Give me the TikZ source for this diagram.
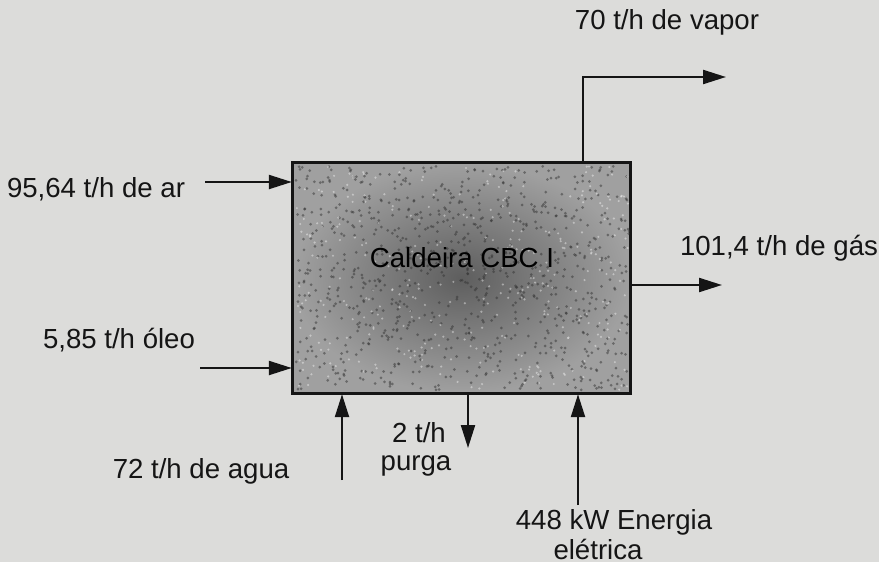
\documentclass[tikz,border=0pt]{standalone}
\usepackage{fontspec}
\setmainfont{Liberation Sans}
\usetikzlibrary{arrows.meta}
\definecolor{pagebg}{HTML}{DCDCDA}
\definecolor{ink}{HTML}{151515}
\definecolor{boxin}{HTML}{5E5E5E}
\definecolor{boxout}{HTML}{A0A0A0}
\begin{document}
\begin{tikzpicture}[x=0.5pt,y=-0.5pt,
  lbl/.style={font=\fontsize{13.8}{16}\selectfont, text=ink, inner sep=0pt},
  flow/.style={draw=ink, line width=1.1pt, -{Triangle[length=11.5pt,width=7pt]}},
  boilerbox/.style={draw=ink, line width=1.2pt, minimum width=168.5pt,
    minimum height=115pt, inner sep=0pt, inner color=boxin, outer color=boxout}]
\useasboundingbox (0,0) rectangle (879,562);
\fill[pagebg] (0,0) rectangle (879,562);
% boiler
\node[boilerbox] (boiler) at (461.5,278) {};
\pgfmathsetseed{11}
\begin{scope}
\clip (boiler.south west) rectangle (boiler.north east);
\foreach \i in {1,...,900}{
  \pgfmathsetmacro{\px}{296+334*rnd}
  \pgfmathsetmacro{\py}{166+224*rnd}
  \fill[black!80, opacity=0.5] (\px,\py) circle (0.75pt);
}
\foreach \i in {1,...,350}{
  \pgfmathsetmacro{\px}{296+334*rnd}
  \pgfmathsetmacro{\py}{166+224*rnd}
  \fill[white, opacity=0.4] (\px,\py) circle (0.6pt);
}
\end{scope}
\draw[ink, line width=1.2pt] (boiler.south west) rectangle (boiler.north east);
\node[lbl, text=black] (boilerlabel) at (462,258) {Caldeira CBC I};
% coordinates
\coordinate (vtop) at (583,77);
\coordinate (vend) at (726,77);
\coordinate (airS) at (205,182);
\coordinate (oilS) at (200,368);
\coordinate (gasE) at (722,285);
\coordinate (aguaS) at (342,480);
\coordinate (purgaE) at (468,448);
\coordinate (enS) at (578,505);
% flows
\draw[flow] (vtop |- boiler.north) -- (vtop) -- (vend);
\draw[flow] (airS) -- (airS -| boiler.west);
\draw[flow] (oilS) -- (oilS -| boiler.west);
\draw[flow] (gasE -| boiler.east) -- (gasE);
\draw[flow] (aguaS) -- (aguaS |- boiler.south);
\draw[flow] (purgaE |- boiler.south) -- (purgaE);
\draw[flow] (enS) -- (enS |- boiler.south);
% labels
\node[lbl] (vaporlbl) at (667,22) {70 t/h de vapor};
\node[lbl] (arlbl) at (96,189) {95,64 t/h de ar};
\node[lbl] (oleolbl) at (119,340) {5,85 t/h óleo};
\node[lbl] (gaslbl) at (779,248) {101,4 t/h de gás};
\node[lbl] (agualbl) at (201,471) {72 t/h de agua};
\node[lbl] (purgalbl1) at (419,433) {2 t/h};
\node[lbl] (purgalbl2) at (416,466) {purga};
\node[lbl] (enlbl1) at (614,522) {448 kW Energia};
\node[lbl] (enlbl2) at (598,549) {elétrica};
\end{tikzpicture}
\end{document}
